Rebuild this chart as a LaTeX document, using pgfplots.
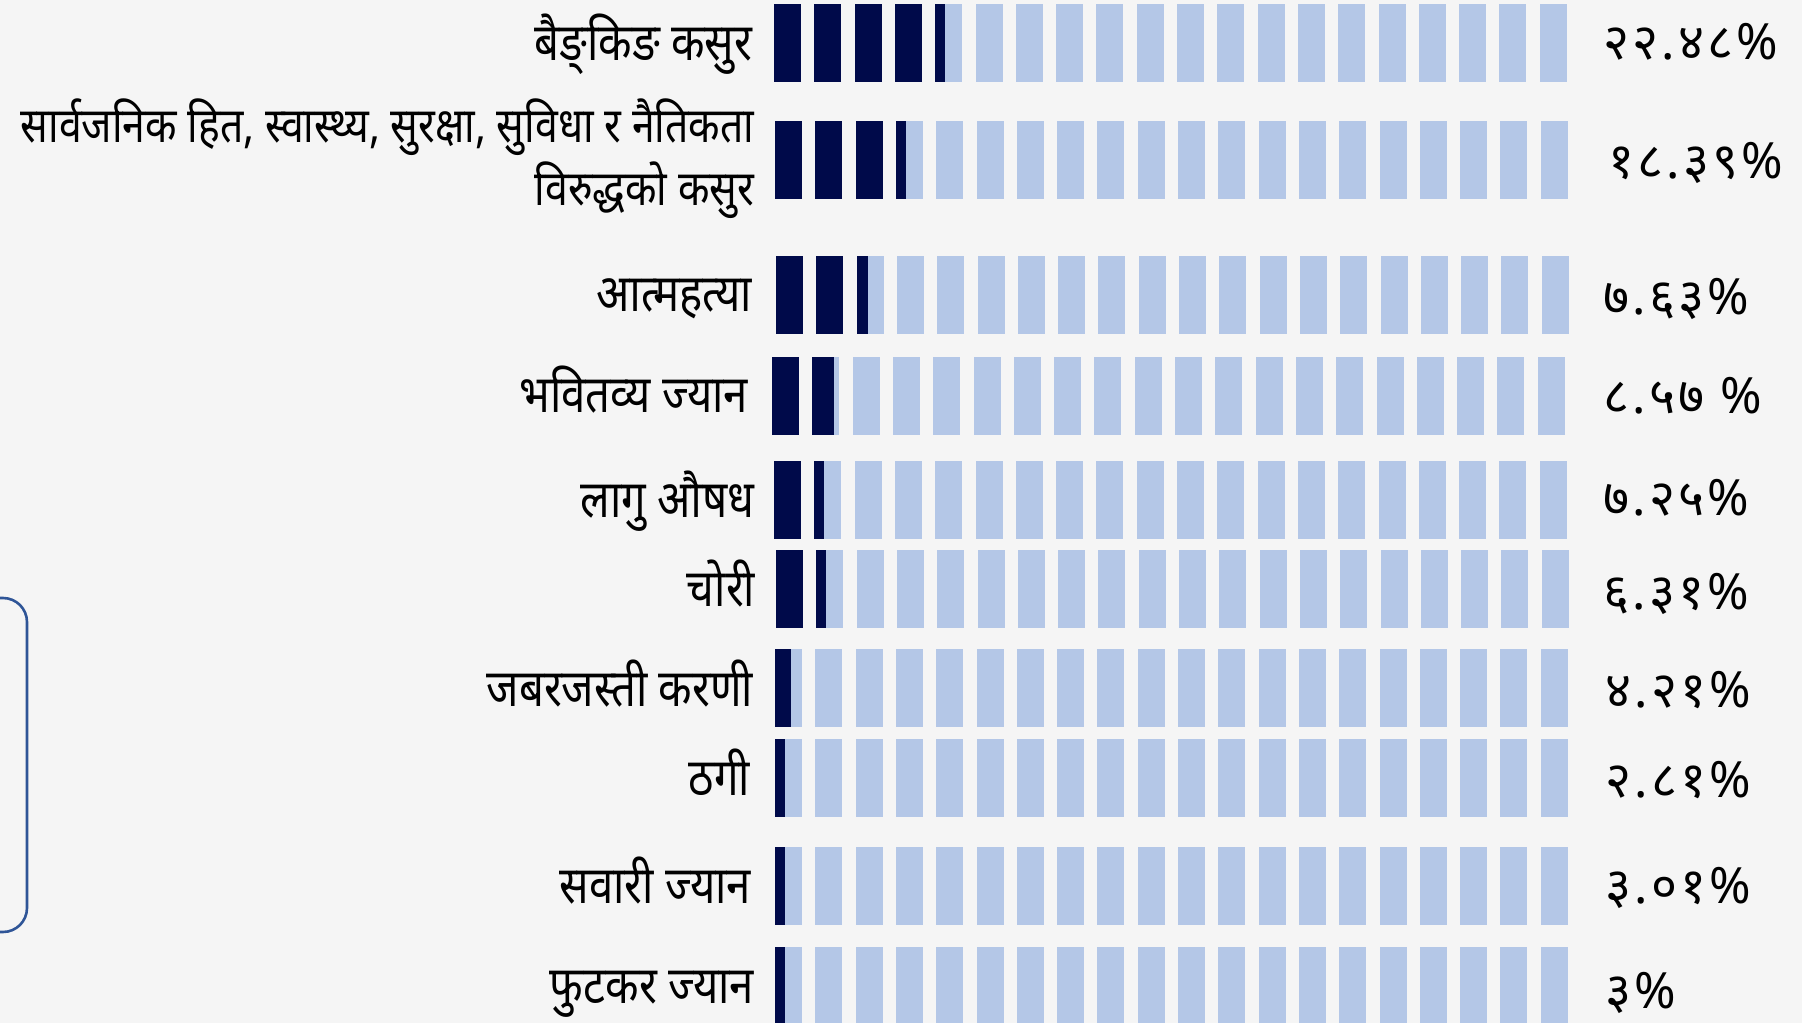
\documentclass[border=0pt]{standalone}
\usepackage{fontspec}
\usepackage{pgfplots}
\pgfplotsset{compat=1.18}
\newfontfamily\deva[Script=Devanagari, FakeStretch=0.84]{Noto Sans}
\newfontfamily\devaval[Script=Devanagari, LetterSpace=6]{Noto Sans}
\definecolor{bgc}{HTML}{F5F5F5}
\definecolor{lightc}{HTML}{B4C7E7}
\definecolor{darkc}{RGB}{0,10,74}
\definecolor{framec}{HTML}{2F5597}
\begin{document}
\begin{tikzpicture}
\begin{axis}[
  scale only axis,
  width=450.5pt, height=255.75pt,
  xmin=0, xmax=1802, ymin=0, ymax=1023,
  y dir=reverse,
  axis line style={draw=none},
  ticks=none,
  axis background/.style={fill=bgc},
  clip=true,
]
% row top (px), first segment start (px), dark length in segments
\foreach \yt/\xs/\dk in {4/774/4.37, 121/775/3.37, 256/776/2.44, 357/772/1.81, 461/774/1.37, 550/776/1.37, 649/775/0.59, 739/775/0.37, 847/775/0.37, 947/775/0.37}{
  \foreach \i in {0,...,19}{
    \pgfmathsetmacro\xa{\xs+\i*40.3}
    \pgfmathsetmacro\xb{\xa+27}
    \pgfmathsetmacro\yb{\yt+78}
    \edef\tmp{\noexpand\addplot[draw=none, fill=lightc] coordinates {(\xa,\yt) (\xb,\yt) (\xb,\yb) (\xa,\yb)};}
    \tmp
    \pgfmathsetmacro\f{min(max(\dk-\i,0),1)}
    \ifdim\f pt>0pt
      \pgfmathsetmacro\xc{\xa+27*\f}
      \edef\tmp{\noexpand\addplot[draw=none, fill=darkc] coordinates {(\xa,\yt) (\xc,\yt) (\xc,\yb) (\xa,\yb)};}
      \tmp
    \fi
  }
}
\addplot[draw=framec, line width=0.65pt, rounded corners=6pt] coordinates {(-40,598) (27,598) (27,932) (-40,932)};
% category labels
\begin{scope}[every node/.style={anchor=base east, inner sep=0pt, font=\deva\fontsize{13}{15}\selectfont}]
\node at (axis cs:753,61) {बैङ्‌किङ कसुर};
\node[font=\deva\fontsize{12.2}{14}\selectfont] at (axis cs:755,143) {सार्वजनिक हित, स्वास्थ्य, सुरक्षा, सुविधा र नैतिकता};
\node[font=\deva\fontsize{12.2}{14}\selectfont] at (axis cs:755,206) {विरुद्धको कसुर};
\node at (axis cs:753,312) {आत्महत्या};
\node at (axis cs:749,413) {भवितव्य ज्यान};
\node at (axis cs:755,518) {लागु औषध};
\node at (axis cs:756,607) {चोरी};
\node at (axis cs:754,706) {जबरजस्ती करणी};
\node at (axis cs:751,795) {ठगी};
\node at (axis cs:752,903) {सवारी ज्यान};
\node at (axis cs:755,1003) {फुटकर ज्यान};
\end{scope}
% values
\begin{scope}[every node/.style={anchor=base west, inner sep=0pt, font=\devaval\fontsize{12.5}{14}\selectfont}]
\node at (axis cs:1603,60) {२२.४८\%};
\node at (axis cs:1608,179) {१८.३९\%};
\node at (axis cs:1603,315) {७.६३\%};
\node at (axis cs:1603,414) {८.५७ \%};
\node at (axis cs:1603,516) {७.२५\%};
\node at (axis cs:1603,610) {६.३१\%};
\node at (axis cs:1605,707) {४.२१\%};
\node at (axis cs:1605,797) {२.८१\%};
\node at (axis cs:1605,903) {३.०१\%};
\node at (axis cs:1605,1008) {३\%};
\end{scope}
\end{axis}
\end{tikzpicture}
\end{document}
